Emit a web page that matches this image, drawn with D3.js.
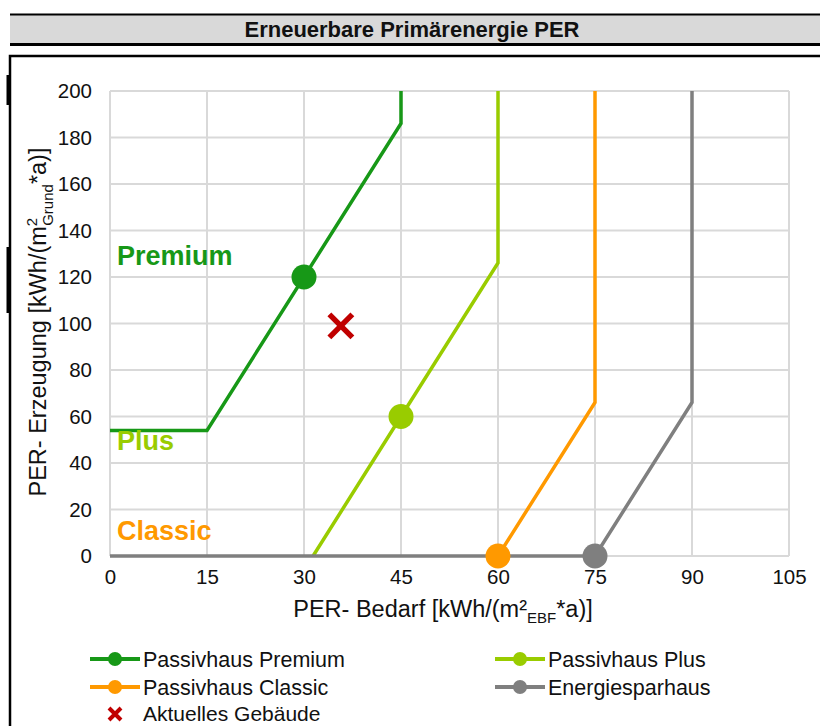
<!DOCTYPE html>
<html>
<head>
<meta charset="utf-8">
<script src="https://cdn.jsdelivr.net/npm/d3@7"></script>
<style>
  body { margin: 0; background: #fff; }
  svg { display: block; font-family: "Liberation Sans", Arial, sans-serif; }
</style>
</head>
<body>
<svg width="820" height="726"></svg>
<script>
var svg = d3.select("svg"),
    width = +svg.attr("width"),
    height = +svg.attr("height");

// tick labels
var xTicks = [0, 15, 30, 45, 60, 75, 90, 105];
var yTicks = [0, 20, 40, 60, 80, 100, 120, 140, 160, 180, 200];

// series (PER-Bedarf, PER-Erzeugung)
var premiumX = [0, 15, 45, 45],
    premiumY = [54, 54, 186, 200];
var plusX = [31.4, 45, 60, 60],
    plusY = [0, 60, 126, 200];
var classicX = [60, 75, 75],
    classicY = [0, 66, 200];
var sparX = [0, 75, 90, 90],
    sparY = [0, 0, 66, 200];

// marker points per series
var markerX = [30, 45, 60, 75],
    markerY = [120, 60, 0, 0];

var seriesNames = ["Passivhaus Premium", "Passivhaus Plus", "Passivhaus Classic", "Energiesparhaus"];
var colors = ["#179817", "#99cc00", "#ff9900", "#7f7f7f"];

var currentX = [35.7], currentY = [99];
var currentName = "Aktuelles Gebäude";

var x = d3.scaleLinear().domain([0, 105]).range([110, 789]);
var y = d3.scaleLinear().domain([0, 200]).range([556, 91]);

// title bar
svg.append("rect").attr("x", 10).attr("y", 15).attr("width", width).attr("height", 29)
    .attr("fill", "#d9d9d9");
svg.append("line").attr("x1", 10).attr("x2", width).attr("y1", 14.5).attr("y2", 14.5)
    .attr("stroke", "#000").attr("stroke-width", 2);
svg.append("line").attr("x1", 10).attr("x2", width).attr("y1", 44.5).attr("y2", 44.5)
    .attr("stroke", "#000").attr("stroke-width", 3);
svg.append("text").attr("x", 412).attr("y", 37)
    .attr("text-anchor", "middle").attr("font-weight", "bold").attr("font-size", 22)
    .attr("fill", "#111")
    .text("Erneuerbare Primärenergie PER");

// chart box
svg.append("rect").attr("x", 10).attr("y", 56).attr("width", width + 20).attr("height", height)
    .attr("fill", "none").attr("stroke", "#000").attr("stroke-width", 2.5);
svg.append("line").attr("x1", 8).attr("x2", 8).attr("y1", 75).attr("y2", 105)
    .attr("stroke", "#000").attr("stroke-width", 3);
svg.append("line").attr("x1", 8).attr("x2", 8).attr("y1", 247).attr("y2", 313)
    .attr("stroke", "#000").attr("stroke-width", 3);

// grid
var grid = svg.append("g").attr("stroke", "#d9d9d9").attr("stroke-width", 2);
grid.selectAll("line.h").data(yTicks).enter().append("line")
    .attr("x1", x(0)).attr("x2", x(105))
    .attr("y1", function(d) { return y(d); })
    .attr("y2", function(d) { return y(d); });
grid.selectAll("line.v").data(xTicks).enter().append("line")
    .attr("y1", y(0)).attr("y2", y(200))
    .attr("x1", function(d) { return x(d); })
    .attr("x2", function(d) { return x(d); });

// axes (labels only)
var xAxis = svg.append("g").attr("transform", "translate(0," + (y(0) + 8) + ")")
    .call(d3.axisBottom(x).tickValues(xTicks).tickSize(0).tickPadding(5));
var yAxis = svg.append("g").attr("transform", "translate(" + (x(0) - 18) + ",0)")
    .call(d3.axisLeft(y).tickValues(yTicks).tickSize(0).tickPadding(0));
[xAxis, yAxis].forEach(function(a) {
    a.select(".domain").remove();
    a.selectAll("text").attr("font-size", 20.5).attr("fill", "#111")
        .attr("font-family", "Liberation Sans, Arial, sans-serif");
});

// axis titles
var xt = svg.append("text").attr("x", 443).attr("y", 617)
    .attr("text-anchor", "middle").attr("font-size", 23.5).attr("fill", "#111");
xt.append("tspan").text("PER- Bedarf [kWh/(m²");
xt.append("tspan").attr("font-size", 15).attr("dy", 6).text("EBF");
xt.append("tspan").attr("dy", -6).text("*a)]");

var yt = svg.append("text")
    .attr("transform", "translate(46," + 322 + ") rotate(-90)")
    .attr("text-anchor", "middle").attr("font-size", 23.5).attr("fill", "#111");
yt.append("tspan").text("PER- Erzeugung [kWh/(m");
yt.append("tspan").attr("font-size", 15).attr("dy", -9).text("2");
yt.append("tspan").attr("font-size", 15).attr("dx", -8).attr("dy", 16).text("Grund");
yt.append("tspan").attr("dy", -7).text("*");
yt.append("tspan").attr("dy", 0).text("a)]");

// series lines
var seriesX = [premiumX, plusX, classicX, sparX],
    seriesY = [premiumY, plusY, classicY, sparY];
var line = d3.line()
    .x(function(d) { return x(d[0]); })
    .y(function(d) { return y(d[1]); });

svg.append("g").selectAll("path").data(seriesX).enter().append("path")
    .attr("d", function(xs, i) {
        return line(xs.map(function(v, j) { return [v, seriesY[i][j]]; }));
    })
    .attr("fill", "none")
    .attr("stroke", function(d, i) { return colors[i]; })
    .attr("stroke-width", 3.5)
    .attr("stroke-linejoin", "miter");

svg.append("g").selectAll("circle").data(markerX).enter().append("circle")
    .attr("cx", function(d) { return x(d); })
    .attr("cy", function(d, i) { return y(markerY[i]); })
    .attr("r", 12.5)
    .attr("fill", function(d, i) { return colors[i]; });

// current building cross
function cross(g, cx, cy, s, w) {
    g.append("path")
        .attr("d", "M" + (cx - s) + "," + (cy - s) + "L" + (cx + s) + "," + (cy + s) +
                   "M" + (cx - s) + "," + (cy + s) + "L" + (cx + s) + "," + (cy - s))
        .attr("stroke", "#c00000").attr("stroke-width", w).attr("fill", "none");
}
currentX.forEach(function(v, i) { cross(svg, x(v), y(currentY[i]), 11.5, 5.5); });

// in-plot labels
var labels = ["Premium", "Plus", "Classic"];
svg.selectAll("text.lab").data(labels).enter().append("text")
    .attr("x", 117)
    .attr("y", function(d, i) { return [265, 450, 540][i]; })
    .attr("font-size", 27).attr("font-weight", "bold")
    .attr("fill", function(d, i) { return colors[i]; })
    .text(function(d) { return d; });

// legend
var legPos = [[90, 659], [495, 659], [90, 687], [495, 687]];
var leg = svg.append("g");
seriesNames.forEach(function(name, i) {
    var p = legPos[i];
    leg.append("line").attr("x1", p[0]).attr("x2", p[0] + 50).attr("y1", p[1]).attr("y2", p[1])
        .attr("stroke", colors[i]).attr("stroke-width", 4);
    leg.append("circle").attr("cx", p[0] + 25).attr("cy", p[1]).attr("r", 7).attr("fill", colors[i]);
    leg.append("text").attr("x", p[0] + 53).attr("y", p[1] + 7.5)
        .attr("font-size", 21.5).attr("fill", "#111").text(name);
});
cross(leg, 115, 714, 6, 4);
leg.append("text").attr("x", 143).attr("y", 721)
    .attr("font-size", 21).attr("fill", "#111").text(currentName);
</script>
</body>
</html>
